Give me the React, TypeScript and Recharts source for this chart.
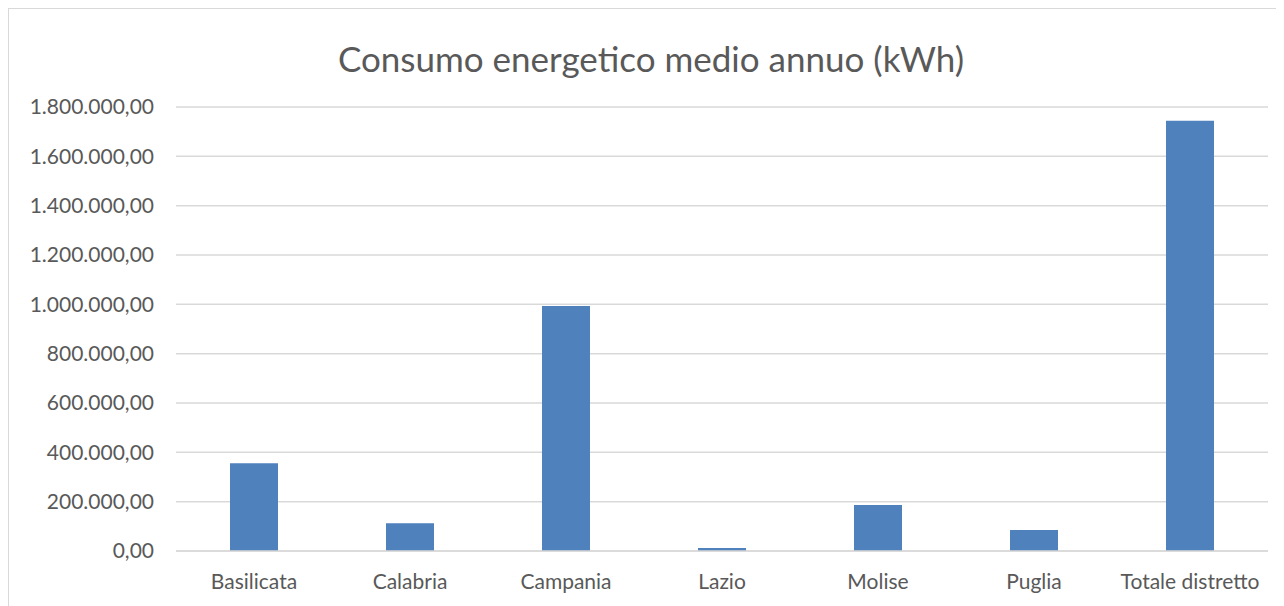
import React from 'react';
import { BarChart, Bar, XAxis, YAxis, CartesianGrid } from 'recharts';

const regions = ['Basilicata', 'Calabria', 'Campania', 'Lazio', 'Molise', 'Puglia', 'Totale distretto'];
const consumi = [356000, 112000, 993000, 12000, 186500, 85000, 1744500];
const yTicks = [0, 200000, 400000, 600000, 800000, 1000000, 1200000, 1400000, 1600000, 1800000];

const data = regions.map((name, i) => ({ name, value: consumi[i] }));

// formato italiano: 1.800.000,00
const formatIt = (v: number) => {
  const int = Math.round(v).toString().replace(/\B(?=(\d{3})+(?!\d))/g, '.');
  return `${int},00`;
};

const FONT = 'Lato, "Open Sans", sans-serif';
const TEXT = '#595959';
const GRID = '#d9d9d9';

const App: React.FC = () => {
  return (
    <div
      style={{
        position: 'relative',
        width: 1276,
        height: 598,
        boxSizing: 'border-box',
        borderLeft: `1px solid ${GRID}`,
        borderTop: `1px solid ${GRID}`,
        background: '#fff',
        fontFamily: FONT,
      }}
    >
      <div
        style={{
          position: 'absolute',
          top: 27,
          left: 0,
          width: 1284,
          textAlign: 'center',
          fontSize: 35,
          color: TEXT,
          lineHeight: '44px',
        }}
      >
        Consumo energetico medio annuo (kWh)
      </div>
      <div style={{ position: 'absolute', left: -1, top: -1 }}>
        <BarChart
          width={1276}
          height={598}
          data={data}
          margin={{ top: 99, right: 16, left: 0, bottom: 0 }}
          barSize={48}
        >
          <CartesianGrid vertical={false} stroke={GRID} strokeWidth={1.5} />
          <XAxis
            dataKey="name"
            height={55}
            axisLine={{ stroke: GRID, strokeWidth: 1.5 }}
            tickLine={false}
            tickMargin={17}
            interval={0}
            tick={{ fill: TEXT, fontSize: 21, fontFamily: FONT }}
          />
          <YAxis
            width={168}
            domain={[0, 1800000]}
            ticks={yTicks}
            axisLine={false}
            tickLine={false}
            tickMargin={16}
            tickFormatter={formatIt}
            tick={{ fill: TEXT, fontSize: 21, fontFamily: FONT }}
          />
          <Bar dataKey="value" fill="#4F81BD" isAnimationActive={false} />
        </BarChart>
      </div>
    </div>
  );
};

export default App;
